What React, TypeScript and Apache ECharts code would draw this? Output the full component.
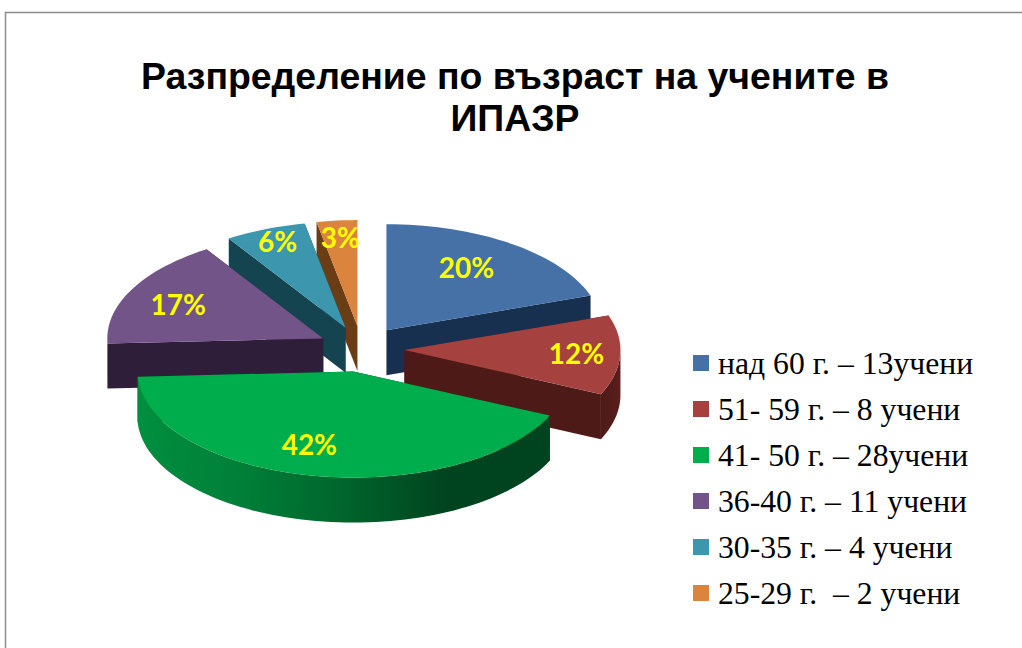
import React, { useEffect, useRef } from "react";
import * as echarts from "echarts";

const titleText = "Разпределение по възраст на учените в\nИПАЗР";
const groupNames = [
  "над 60 г. – 13учени",
  "51- 59 г. – 8 учени",
  "41- 50 г. – 28учени",
  "36-40 г. – 11 учени",
  "30-35 г. – 4 учени",
  "25-29 г.  – 2 учени",
];
const studentCounts = [13, 8, 28, 11, 4, 2];
const topColors = ["#4571A6", "#A5413F", "#00AD4C", "#735489", "#3C96AE", "#DB843D"];
const wallColors = ["#17304F", "#4D1A18", "#00431F", "#2E1E39", "#144450", "#6B3D14"];
const outerWallStops = [
  ["#17304F", "#17304F"],
  ["#4D1A18", "#5A1E1B"],
  ["#008F3F", "#007F38", "#00652C", "#00431F", "#00431F"],
  ["#2E1E39", "#2E1E39"],
  ["#144450", "#144450"],
  ["#6B3D14", "#6B3D14"],
];
// back-to-front painting rank of each slice
const paintRank = [2, 4, 5, 3, 1, 0];
// label centre relative to each slice's apex
const labelShift = [
  [80, -63],
  [172, 3],
  [-44, 72],
  [-145, -34],
  [-68, -87],
  [-17, -89],
];

const CX = 361.5;
const CY = 349;
const RX = 216;
const RY = 106;
const DEPTH = 45;
const EXPLODE_X = 43;
const EXPLODE_Y = 23;

const total = studentCounts.reduce((a, b) => a + b, 0);
const startAngles: number[] = [];
studentCounts.reduce((acc, v, i) => {
  startAngles[i] = acc;
  return acc + (v / total) * Math.PI * 2;
}, 0);

function rimPoint(ax: number, ay: number, t: number, dy = 0): number[] {
  return [ax + RX * Math.sin(t), ay - RY * Math.cos(t) + dy];
}

function arcPoints(ax: number, ay: number, a0: number, a1: number, dy = 0): number[][] {
  const n = Math.max(2, Math.ceil(((a1 - a0) / Math.PI) * 90));
  const pts: number[][] = [];
  for (let i = 0; i <= n; i++) pts.push(rimPoint(ax, ay, a0 + ((a1 - a0) * i) / n, dy));
  return pts;
}

function sliceRenderer(i: number) {
  return () => {
    const a0 = startAngles[i];
    const a1 = a0 + (studentCounts[i] / total) * Math.PI * 2;
    const mid = (a0 + a1) / 2;
    const ax = CX + EXPLODE_X * Math.sin(mid);
    const ay = CY - EXPLODE_Y * Math.cos(mid);
    const children: any[] = [];
    const face = (t: number) => {
      const p = rimPoint(ax, ay, t);
      children.push({
        type: "polygon",
        shape: { points: [[ax, ay], p, [p[0], p[1] + DEPTH], [ax, ay + DEPTH]] },
        style: { fill: wallColors[i] },
      });
    };
    face(a1);
    face(a0);
    const w0 = Math.max(a0, Math.PI / 2);
    const w1 = Math.min(a1, (Math.PI * 3) / 2);
    if (w1 > w0) {
      const upper = arcPoints(ax, ay, w0, w1);
      const lower = arcPoints(ax, ay, w0, w1, DEPTH).reverse();
      const stops = outerWallStops[i];
      children.push({
        type: "polygon",
        shape: { points: upper.concat(lower) },
        style: {
          fill: new echarts.graphic.LinearGradient(
            0,
            0,
            1,
            0,
            stops.map((color, k) => ({ offset: k / (stops.length - 1), color }))
          ),
        },
      });
    }
    children.push({
      type: "polygon",
      shape: { points: [[ax, ay]].concat(arcPoints(ax, ay, a0, a1)) },
      style: { fill: topColors[i] },
    });
    children.push({
      type: "text",
      z2: 10,
      style: {
        text: Math.round((studentCounts[i] / total) * 100) + "%",
        x: ax + labelShift[i][0],
        y: ay + labelShift[i][1],
        align: "center",
        verticalAlign: "middle",
        fill: "#FFFF00",
        font: 'bold 28px Lato, "Open Sans", sans-serif',
      },
    });
    return { type: "group", children };
  };
}

export default function App() {
  const ref = useRef<HTMLDivElement>(null);
  useEffect(() => {
    const chart = echarts.init(ref.current!, undefined, { renderer: "svg" });
    chart.setOption({
      animation: false,
      backgroundColor: "#FFFFFF",
      title: {
        text: titleText,
        left: 510,
        top: 50,
        textAlign: "center",
        textStyle: {
          fontFamily: '"Liberation Sans", Arial, sans-serif',
          fontWeight: "bold",
          fontSize: 37.4,
          lineHeight: 42,
          color: "#000000",
        },
      },
      legend: {
        orient: "vertical",
        left: 693,
        top: 347,
        padding: 0,
        itemWidth: 16,
        itemHeight: 16,
        itemGap: 14,
        icon: "rect",
        selectedMode: false,
        data: groupNames,
        textStyle: {
          fontFamily: '"Liberation Serif", "Times New Roman", serif',
          fontSize: 31.7,
          lineHeight: 32,
          color: "#000000",
          padding: [0, 0, 0, 4],
        },
      },
      graphic: [
        {
          type: "polyline",
          shape: { points: [[5.5, 648], [5.5, 12.5], [1022, 12.5]] },
          style: { stroke: "#8C8C8C", lineWidth: 1.5, fill: "none" },
        },
      ],
      series: groupNames.map((name, i) => ({
        type: "custom",
        name,
        coordinateSystem: "none",
        z: 2 + paintRank[i],
        itemStyle: { color: topColors[i] },
        data: [studentCounts[i]],
        renderItem: sliceRenderer(i),
      })),
    });
    return () => chart.dispose();
  }, []);
  return (
    <div
      ref={ref}
      style={{ position: "absolute", left: 0, top: 0, width: 1022, height: 648 }}
    />
  );
}
